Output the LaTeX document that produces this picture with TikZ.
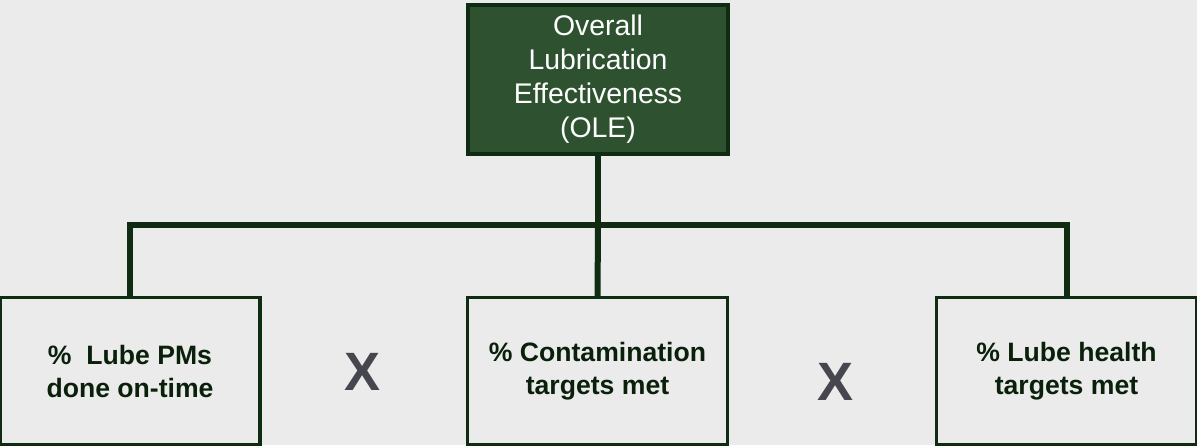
\documentclass[tikz,border=0pt]{standalone}
\usepackage{fontspec}
\setmainfont{Liberation Sans}
\definecolor{kbg}{HTML}{EBEBEB}
\definecolor{kfill}{HTML}{2E5230}
\definecolor{kline}{HTML}{0F2C12}
\definecolor{ktext}{HTML}{0A200B}
\definecolor{kgrey}{HTML}{46464E}
\tikzset{
  topbox/.style={draw=kline,line width=1.7pt,fill=kfill,text=white,align=center,
    minimum width=130pt,minimum height=74.5pt,inner sep=0pt,
    font=\fontsize{14.2}{17}\selectfont},
  subbox/.style={draw=kline,line width=1.7pt,fill=kbg,text=ktext,align=center,
    minimum width=130pt,minimum height=73.5pt,inner sep=0pt,
    font=\fontsize{13.3}{16.5}\selectfont\bfseries},
  link/.style={draw=kline,line width=3pt},
  times/.style={text=kgrey,font=\fontsize{27}{27}\selectfont\bfseries,inner sep=0pt}
}
\begin{document}
\begin{tikzpicture}[x=0.5pt,y=-0.5pt]
\pgfmathsetmacro{\ksuby}{371}
\pgfmathsetmacro{\kbary}{225}
\fill[kbg](0,0)rectangle(1197,445);
\useasboundingbox(0,0)rectangle(1197,445);
\node[topbox](ole)at(598,79.5){Overall\\Lubrication\\Effectiveness\\(OLE)};
\foreach \kx/\kname/\klb in {130/pms/{\%\ \ Lube PMs\\done on-time},597.5/cont/{\% Contamination\\targets met},1066.5/hlth/{\% Lube health\\targets met}}{\node[subbox](\kname)at(\kx,\ksuby){\klb};}
\coordinate(bar)at(598,\kbary);
\draw[link](ole.south)--(bar);
\draw[link](pms.north)|-(bar)-|(hlth.north);
\draw[link](bar)--(cont.north);
\foreach \kx/\ky/\kname in {363/372/xa,835/382/xb}{\node[times](\kname)at(\kx,\ky){X};}
\end{tikzpicture}
\end{document}
